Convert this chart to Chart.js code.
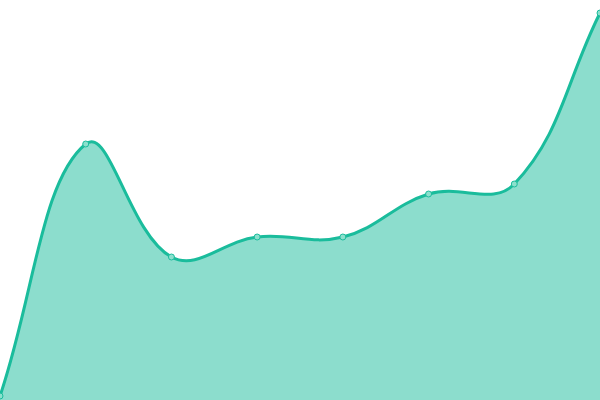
<!DOCTYPE html>
<html>
<head>
<meta charset="utf-8">
<script src="https://cdn.jsdelivr.net/npm/chart.js@4"></script>
<style>
  html, body { margin: 0; padding: 0; background: #fff; }
  #wrap { width: 600px; height: 400px; }
</style>
</head>
<body>
<div id="wrap"><canvas id="grafico"></canvas></div>
<script>
// --- Dados ---
const categorias = ['1', '2', '3', '4', '5', '6', '7', '8'];
const valores = [4, 256, 143, 163, 163, 206, 216, 387];

const ctx = document.getElementById('grafico').getContext('2d');
new Chart(ctx, {
    type: 'line',
    data: {
        labels: categorias,
        datasets: [{
            data: valores,
            borderColor: '#1abc9c',
            backgroundColor: 'rgba(26, 188, 156, 0.5)',
            borderWidth: 3,
            fill: true,
            tension: 0.4,
            pointRadius: 3,
            pointBackgroundColor: 'rgba(140, 224, 205, 1)',
            pointBorderColor: '#1abc9c',
            pointBorderWidth: 1
        }]
    },
    options: {
        responsive: true,
        maintainAspectRatio: false,
        animation: false,
        layout: { padding: 0, autoPadding: false },
        plugins: { legend: { display: false }, tooltip: { enabled: false } },
        scales: {
            x: { display: false },
            y: { display: false, min: 0, max: 400 }
        }
    }
});
</script>
</body>
</html>
